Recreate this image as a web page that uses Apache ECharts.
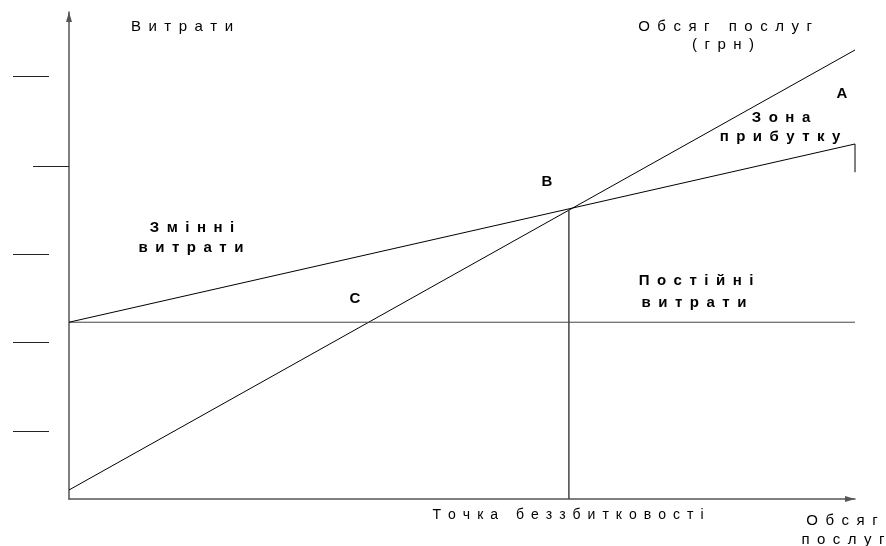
<!DOCTYPE html>
<html>
<head>
<meta charset="utf-8">
<script src="https://cdn.jsdelivr.net/npm/echarts@6/dist/echarts.min.js"></script>
<style>
  html, body { margin: 0; padding: 0; background: #fff; }
  #chart { width: 886px; height: 546px; }
</style>
</head>
<body>
<div id="chart"></div>
<script>
// дані графіка беззбитковості (умовні одиниці 0..100 по обох осях)
const revenueLine = [[0, 1.85], [100, 92.2]];      // обсяг послуг (грн)
const fixedCostLine = [[0, 36.3], [100, 36.3]];    // постійні витрати
const totalCostLine = [[0, 36.3], [100, 72.9]];    // змінні + постійні
const breakEvenLine = [[63.6, 0], [63.6, 59.5]];   // точка беззбитковості
const endMark = [[100, 72.9], [100, 67.1]];
const yTicksInner = [68.4];
const yTicksOuter = [14.0, 32.2, 50.3, 86.9];

const FONT = 'Liberation Sans, Arial, sans-serif';

// розрядка літер як в оригіналі
function spaced(s) {
  return s.split(' ').map(w => w.split('').join('\u2002')).join('\u2002 \u2002');
}

function txt(text, x, y, bold, size) {
  return {
    type: 'text',
    x: x,
    y: y,
    silent: true,
    style: {
      text: spaced(text),
      font: (bold ? 'bold ' : '') + (size || 15) + 'px ' + FONT,
      fill: '#000',
      textAlign: 'center',
      textVerticalAlign: 'middle'
    }
  };
}

const labels = [
  txt('Витрати', 182, 27, false),
  txt('Обсяг послуг', 725, 27, false),
  txt('(грн)', 723, 45, false),
  txt('А', 842, 94, true),
  txt('Зона', 781, 118, true),
  txt('прибутку', 780, 137, true),
  txt('В', 547, 182, true),
  txt('Змінні', 192, 228, true),
  txt('витрати', 191, 248, true),
  txt('С', 355, 299, true),
  txt('Постійні', 696, 281, true),
  txt('витрати', 694, 303, true),
  txt('Точка беззбитковості', 568, 515, false, 14),
  txt('Обсяг', 842, 521, false),
  txt('послуг', 843, 540, false)
];

function lineSeries(data, color, width) {
  return {
    type: 'line',
    data: data,
    symbol: 'none',
    silent: true,
    clip: false,
    lineStyle: { color: color || '#000', width: width || 1 }
  };
}

const chart = echarts.init(document.getElementById('chart'), null, { renderer: 'canvas' });
chart.setOption({
  animation: false,
  backgroundColor: '#fff',
  grid: { left: 69, right: 31, top: 12, bottom: 47 },
  xAxis: {
    type: 'value',
    min: 0,
    max: 100,
    axisLine: {
      show: true,
      symbol: ['none', 'triangle'],
      symbolSize: [6, 10],
      symbolOffset: [0, -5],
      lineStyle: { color: '#555', width: 1.5 }
    },
    axisTick: { show: false },
    axisLabel: { show: false },
    splitLine: { show: false }
  },
  yAxis: [{
    type: 'value',
    min: 0,
    max: 100,
    axisLine: {
      show: true,
      symbol: ['none', 'triangle'],
      symbolSize: [6, 10],
      symbolOffset: [0, -5],
      lineStyle: { color: '#555', width: 1.5 }
    },
    axisTick: {
      show: true,
      customValues: yTicksInner,
      length: 36,
      lineStyle: { color: '#222', width: 1 }
    },
    axisLabel: { show: false },
    splitLine: { show: false }
  }, {
    type: 'value',
    min: 0,
    max: 100,
    position: 'left',
    offset: 20,
    axisLine: { show: false },
    axisTick: {
      show: true,
      customValues: yTicksOuter,
      length: 36,
      lineStyle: { color: '#222', width: 1 }
    },
    axisLabel: { show: false },
    splitLine: { show: false }
  }],
  series: [
    lineSeries(revenueLine),
    lineSeries(fixedCostLine, '#444'),
    lineSeries(totalCostLine),
    lineSeries(breakEvenLine, '#444', 1.5),
    lineSeries(endMark)
  ],
  graphic: labels
});
</script>
</body>
</html>
